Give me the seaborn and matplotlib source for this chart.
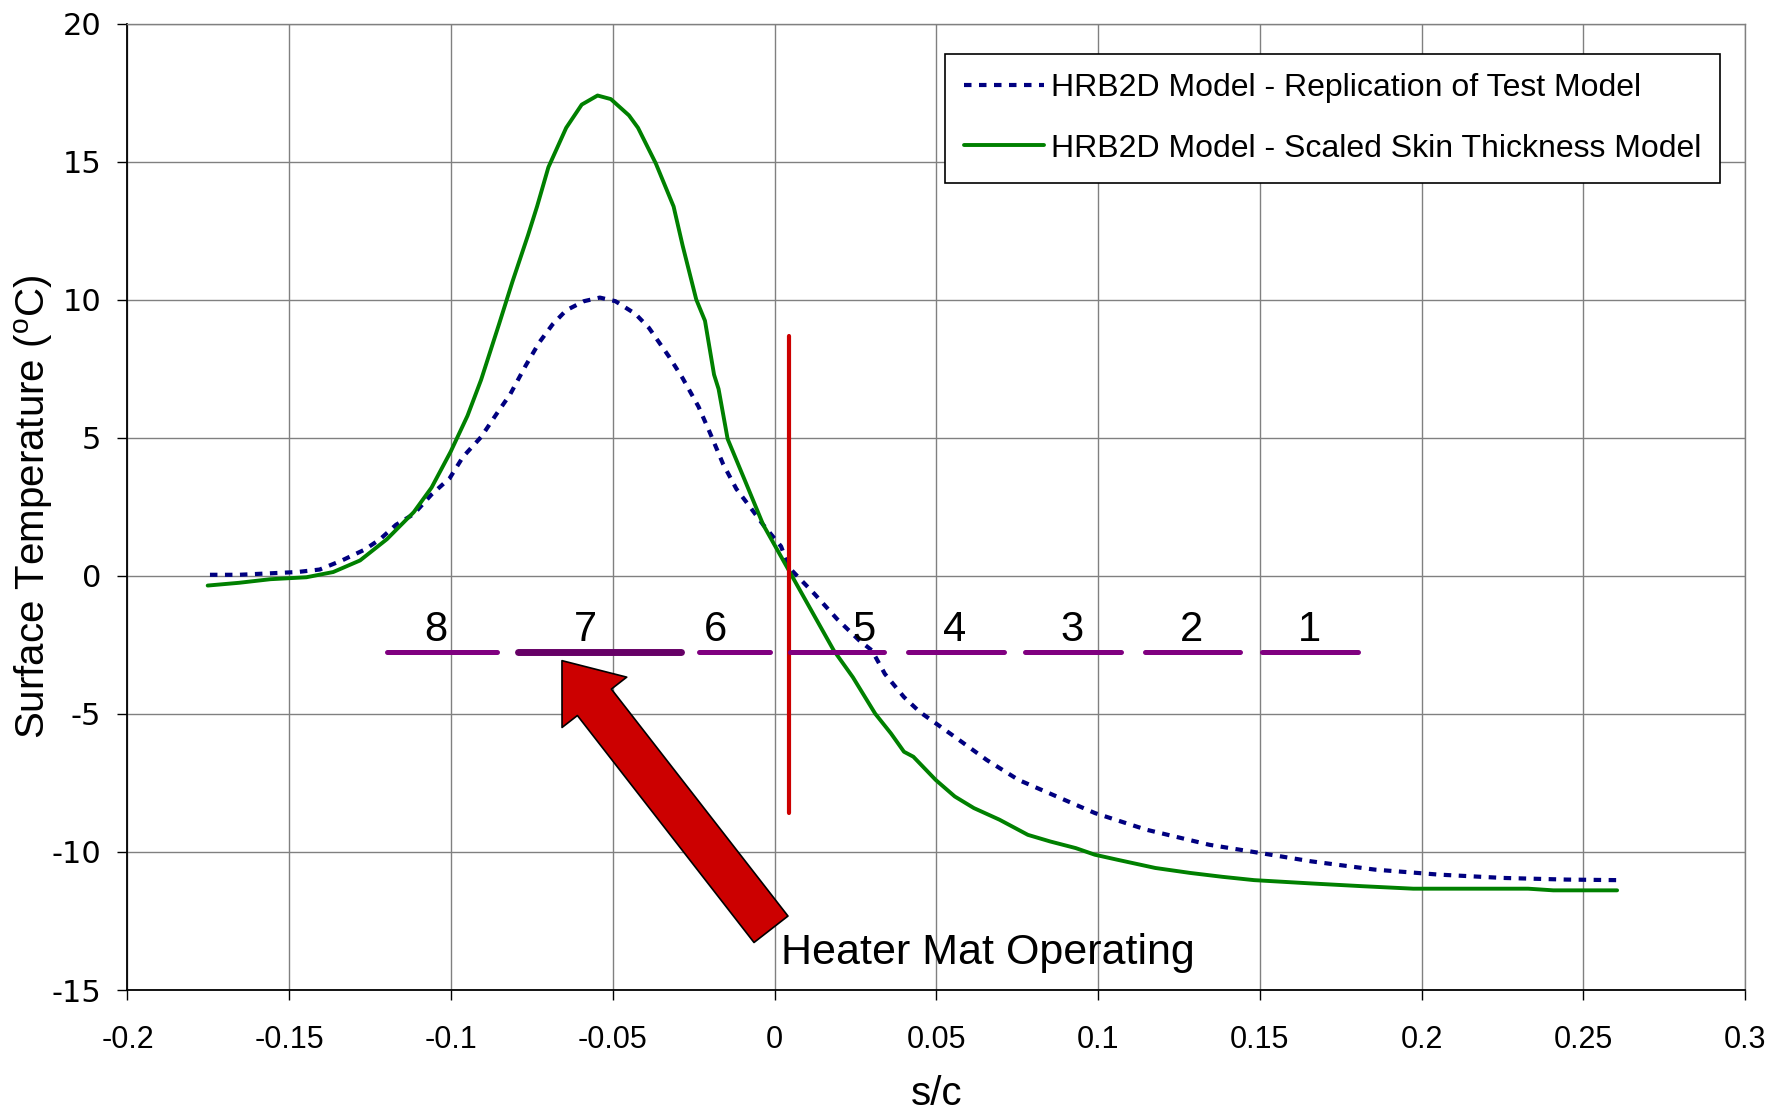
import matplotlib
matplotlib.use("Agg")
import matplotlib.pyplot as plt
import seaborn as sns
import pandas as pd

# data
s_green = [-0.1752, -0.1655, -0.1558, -0.1447, -0.1364, -0.1281, -0.1198, -0.1115, -0.106, -0.1001,
           -0.0949, -0.0907, -0.0852, -0.081, -0.0762, -0.0734, -0.0699, -0.0644, -0.0596, -0.0547,
           -0.0506, -0.045, -0.0422, -0.0367, -0.0312, -0.0284, -0.0242, -0.0215, -0.0187, -0.0173,
           -0.0145, -0.009, -0.0035, 0.0045, 0.0114, 0.0183, 0.0242, 0.0311, 0.036, 0.04,
           0.0429, 0.0498, 0.0557, 0.0616, 0.0695, 0.0783, 0.0852, 0.0931, 0.099, 0.1059,
           0.1177, 0.1285, 0.1384, 0.1482, 0.1659, 0.1817, 0.1974, 0.2329, 0.2407, 0.2604]
t_green = [-0.35, -0.25, -0.12, -0.05, 0.14, 0.56, 1.33, 2.31, 3.2, 4.5,
           5.8, 7.1, 9.1, 10.66, 12.34, 13.38, 14.8, 16.23, 17.07, 17.4,
           17.27, 16.68, 16.23, 14.94, 13.38, 11.96, 10.01, 9.24, 7.29, 6.77,
           4.96, 3.41, 1.85, 0.18, -1.26, -2.7, -3.67, -4.99, -5.71, -6.37,
           -6.55, -7.39, -7.99, -8.41, -8.83, -9.38, -9.62, -9.86, -10.1, -10.28,
           -10.58, -10.76, -10.9, -11.02, -11.14, -11.24, -11.33, -11.33, -11.39, -11.39]

s_blue = [-0.1745, -0.1655, -0.1475, -0.1406, -0.1337, -0.1267, -0.1219, -0.117, -0.1115, -0.106,
          -0.1004, -0.0963, -0.0907, -0.0859, -0.0817, -0.0769, -0.0727, -0.0686, -0.0644, -0.0589,
          -0.054, -0.0492, -0.043, -0.0388, -0.0326, -0.0284, -0.0235, -0.0201, -0.0159, -0.0118,
          -0.0076, -0.0035, 0.002, 0.0045, 0.0124, 0.0193, 0.0262, 0.0301, 0.0341, 0.04,
          0.0449, 0.0557, 0.0656, 0.0754, 0.0872, 0.099, 0.1148, 0.1344, 0.1502, 0.1659,
          0.1856, 0.2053, 0.225, 0.2447, 0.2604]
t_blue = [0.04, 0.04, 0.14, 0.23, 0.56, 0.95, 1.33, 1.85, 2.24, 2.95,
          3.54, 4.31, 5.03, 5.87, 6.58, 7.62, 8.46, 9.11, 9.62, 9.95,
          10.08, 9.95, 9.49, 8.98, 7.94, 7.16, 6.13, 5.22, 4.05, 3.15,
          2.5, 1.85, 1.07, 0.3, -0.66, -1.56, -2.34, -2.7, -3.55, -4.39,
          -4.93, -5.83, -6.67, -7.39, -7.99, -8.59, -9.19, -9.74, -10.04, -10.34,
          -10.64, -10.82, -10.94, -11.0, -11.02]

# heater zones
zone_names = ['8', '7', '6', '5', '4', '3', '2', '1']
zone_start = [-0.1197, -0.0793, -0.0234, 0.0048, 0.0411, 0.0774, 0.1144, 0.1507]
zone_end = [-0.0859, -0.029, -0.0015, 0.0338, 0.0708, 0.1071, 0.144, 0.1803]
zone_label_x = [-0.1047, -0.0583, -0.0182, 0.0275, 0.0558, 0.092, 0.129, 0.1653]
zone_level = -2.74
active_zone = '7'

red_x = 0.0045
red_range = [-8.6, 8.7]

x_ticks = [-0.2, -0.15, -0.1, -0.05, 0, 0.05, 0.1, 0.15, 0.2, 0.25, 0.3]
x_labels = ['-0.2', '-0.15', '-0.1', '-0.05', '0', '0.05', '0.1', '0.15', '0.2', '0.25', '0.3']
y_ticks = [-15, -10, -5, 0, 5, 10, 15, 20]
y_labels = ['-15', '-10', '-5', '0', '5', '10', '15', '20']

name_blue = 'HRB2D Model - Replication of Test Model'
name_green = 'HRB2D Model - Scaled Skin Thickness Model'

df_blue = pd.DataFrame({'s/c': s_blue, 'T': t_blue})
df_green = pd.DataFrame({'s/c': s_green, 'T': t_green})

sns.set_style('white')
plt.rcParams['font.family'] = ['Liberation Sans', 'DejaVu Sans']
plt.rcParams['mathtext.fontset'] = 'custom'
plt.rcParams['mathtext.rm'] = 'Liberation Sans'
plt.rcParams['mathtext.default'] = 'regular'
plt.rcParams['text.color'] = 'black'
plt.rcParams['axes.labelcolor'] = 'black'
plt.rcParams['xtick.color'] = 'black'
plt.rcParams['ytick.color'] = 'black'

fig = plt.figure(figsize=(17.7, 11.14), dpi=100)
ax = fig.add_axes([0.072, 0.1113, 0.914, 0.8674])

sns.lineplot(data=df_blue, x='s/c', y='T', ax=ax, color='#000080', lw=3.0,
             linestyle=(0, (1.8, 1.8)), label=name_blue, sort=False)
sns.lineplot(data=df_green, x='s/c', y='T', ax=ax, color='#008000', lw=2.8,
             label=name_green, sort=False)

# heater segments
for name, a, b, lx in zip(zone_names, zone_start, zone_end, zone_label_x):
    if name == active_zone:
        ax.plot([a, b], [zone_level, zone_level], color='#660066', lw=5, solid_capstyle='round', zorder=4)
    else:
        ax.plot([a, b], [zone_level, zone_level], color='#800080', lw=3.6, solid_capstyle='round', zorder=4)
    ax.text(lx, -1.95, name, fontsize=30, ha='center', va='center', zorder=5)

ax.plot([red_x, red_x], red_range, color='#CC0000', lw=3, zorder=3)

# arrow
ax.annotate('', xy=(-0.0657, -3.07), xytext=(-0.0011, -12.8),
            arrowprops=dict(arrowstyle='simple,head_length=3.8,head_width=5.9,tail_width=3.1',
                            mutation_scale=10, fc='#CC0000', ec='black', lw=1.2,
                            shrinkA=0, shrinkB=0), zorder=6)
ax.text(0.002, -13.65, 'Heater Mat Operating', fontsize=31, ha='left', va='center', zorder=7)

ax.set_xlim(-0.2, 0.3)
ax.set_ylim(-15, 20)
ax.set_xticks(x_ticks)
ax.set_xticklabels(x_labels, fontsize=22)
ax.set_yticks(y_ticks)
ax.set_yticklabels(y_labels, fontsize=22, family=['DejaVu Sans'])
ax.tick_params(axis='x', direction='out', length=7, width=1, color='black', pad=18, bottom=True)
ax.tick_params(axis='y', direction='out', length=7, width=1, color='black', pad=12, left=True)
ax.grid(True, color='#808080', lw=1.0)
ax.set_axisbelow(True)
for side in ['left', 'bottom']:
    ax.spines[side].set_color('black')
    ax.spines[side].set_linewidth(1.3)
for side in ['top', 'right']:
    ax.spines[side].set_color('#808080')
    ax.spines[side].set_linewidth(1.0)

ax.set_xlabel('s/c', fontsize=29, va='center')
ax.xaxis.set_label_coords(0.5, -0.108)
ax.set_ylabel('Surface Temperature ($^{o}$C)', fontsize=29, va='center')
ax.yaxis.set_label_coords(-0.058, 0.5)

leg = ax.legend(loc='upper right', bbox_to_anchor=(0.9845, 0.9686), borderaxespad=0,
                fontsize=23, frameon=True, fancybox=False, framealpha=1, edgecolor='black',
                handlelength=2.5, handletextpad=0.2, borderpad=0.6, labelspacing=0.95)
leg.get_frame().set_linewidth(1.2)

fig.savefig('out.png', dpi=100)
